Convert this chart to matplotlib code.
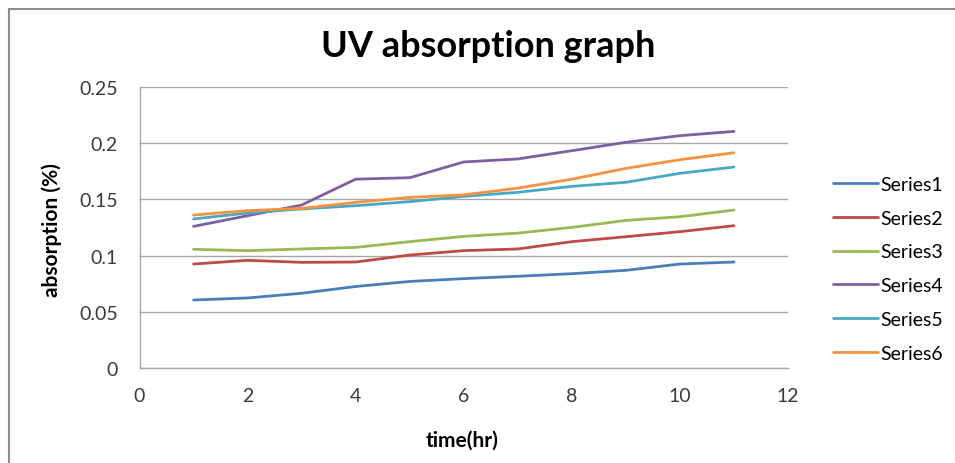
import matplotlib
matplotlib.use("Agg")
import matplotlib.pyplot as plt
from matplotlib.patches import Rectangle

plt.rcParams['font.family'] = ['Lato', 'DejaVu Sans']

time_hr = [1, 2, 3, 4, 5, 6, 7, 8, 9, 10, 11]
series_names = ["Series1", "Series2", "Series3", "Series4", "Series5", "Series6"]
series1 = [0.0605, 0.0623, 0.0665, 0.0725, 0.0770, 0.0795, 0.0816, 0.0839, 0.0869, 0.0925, 0.0943]
series2 = [0.0925, 0.0958, 0.0940, 0.0943, 0.1005, 0.1044, 0.1059, 0.1124, 0.1168, 0.1213, 0.1266]
series3 = [0.1056, 0.1044, 0.1059, 0.1073, 0.1124, 0.1171, 0.1200, 0.1251, 0.1313, 0.1346, 0.1405]
series4 = [0.1260, 0.1355, 0.1450, 0.1680, 0.1693, 0.1833, 0.1860, 0.1933, 0.2008, 0.2067, 0.2105]
series5 = [0.1326, 0.1379, 0.1415, 0.1444, 0.1480, 0.1527, 0.1563, 0.1616, 0.1652, 0.1732, 0.1788]
series6 = [0.1361, 0.1400, 0.1420, 0.1474, 0.1518, 0.1541, 0.1600, 0.1680, 0.1776, 0.1853, 0.1915]
all_series = [series1, series2, series3, series4, series5, series6]
colors = ["#4A7EBB", "#BE4B48", "#98B954", "#7D60A0", "#46AAC5", "#F69240"]

x_ticks = [0, 2, 4, 6, 8, 10, 12]
y_ticks = [0, 0.05, 0.1, 0.15, 0.2, 0.25]
y_tick_labels = ["0", "0.05", "0.1", "0.15", "0.2", "0.25"]

W, H = 955, 464
fig = plt.figure(figsize=(W / 100, H / 100), dpi=100)

# outer chart border
fig.patches.append(Rectangle((9 / W, -0.05), 1.1, 1 - 10 / H + 0.05,
                             transform=fig.transFigure, fill=False,
                             edgecolor="#8c8c8c", linewidth=1.5))

ax = fig.add_axes([139.5 / W, 1 - 369 / H, (788 - 139.5) / W, (369 - 88) / H])

for name, vals, c in zip(series_names, all_series, colors):
    ax.plot(time_hr, vals, color=c, linewidth=2.0, label=name,
            solid_joinstyle="round", solid_capstyle="round")

ax.set_xlim(0, 12)
ax.set_ylim(0, 0.25)
ax.set_xticks(x_ticks)
ax.set_yticks(y_ticks)
ax.set_yticklabels(y_tick_labels)
ax.tick_params(length=0, labelsize=14, colors="#3a3a3a")
ax.tick_params(axis="y", pad=15.5)
ax.tick_params(axis="x", pad=14)
ax.grid(axis="y", color="#a6a6a6", linewidth=1)
ax.set_axisbelow(True)
for s in ["top", "right"]:
    ax.spines[s].set_visible(False)
for s in ["left", "bottom"]:
    ax.spines[s].set_color("#a6a6a6")
    ax.spines[s].set_linewidth(1)

ax.set_xlabel("time(hr)", fontsize=15, fontweight="bold", va="center")
ax.xaxis.set_label_coords(0.497, (369 - 441) / 281)
ax.set_ylabel("absorption (%)", fontsize=15, fontweight="bold", va="center")
ax.yaxis.set_label_coords((52 - 139.5) / 648.5, 0.495)

fig.text(488 / W, 1 - 47 / H, "UV absorption graph", fontsize=26,
         fontweight="bold", ha="center", va="center")

ax.legend(loc="upper left", bbox_to_anchor=(833 / W, 1 - 177 / H),
          bbox_transform=fig.transFigure, frameon=False, fontsize=14,
          handlelength=2.3, handletextpad=0.15, labelspacing=0.86,
          borderaxespad=0, borderpad=0)

fig.savefig("out.png", dpi=100)
